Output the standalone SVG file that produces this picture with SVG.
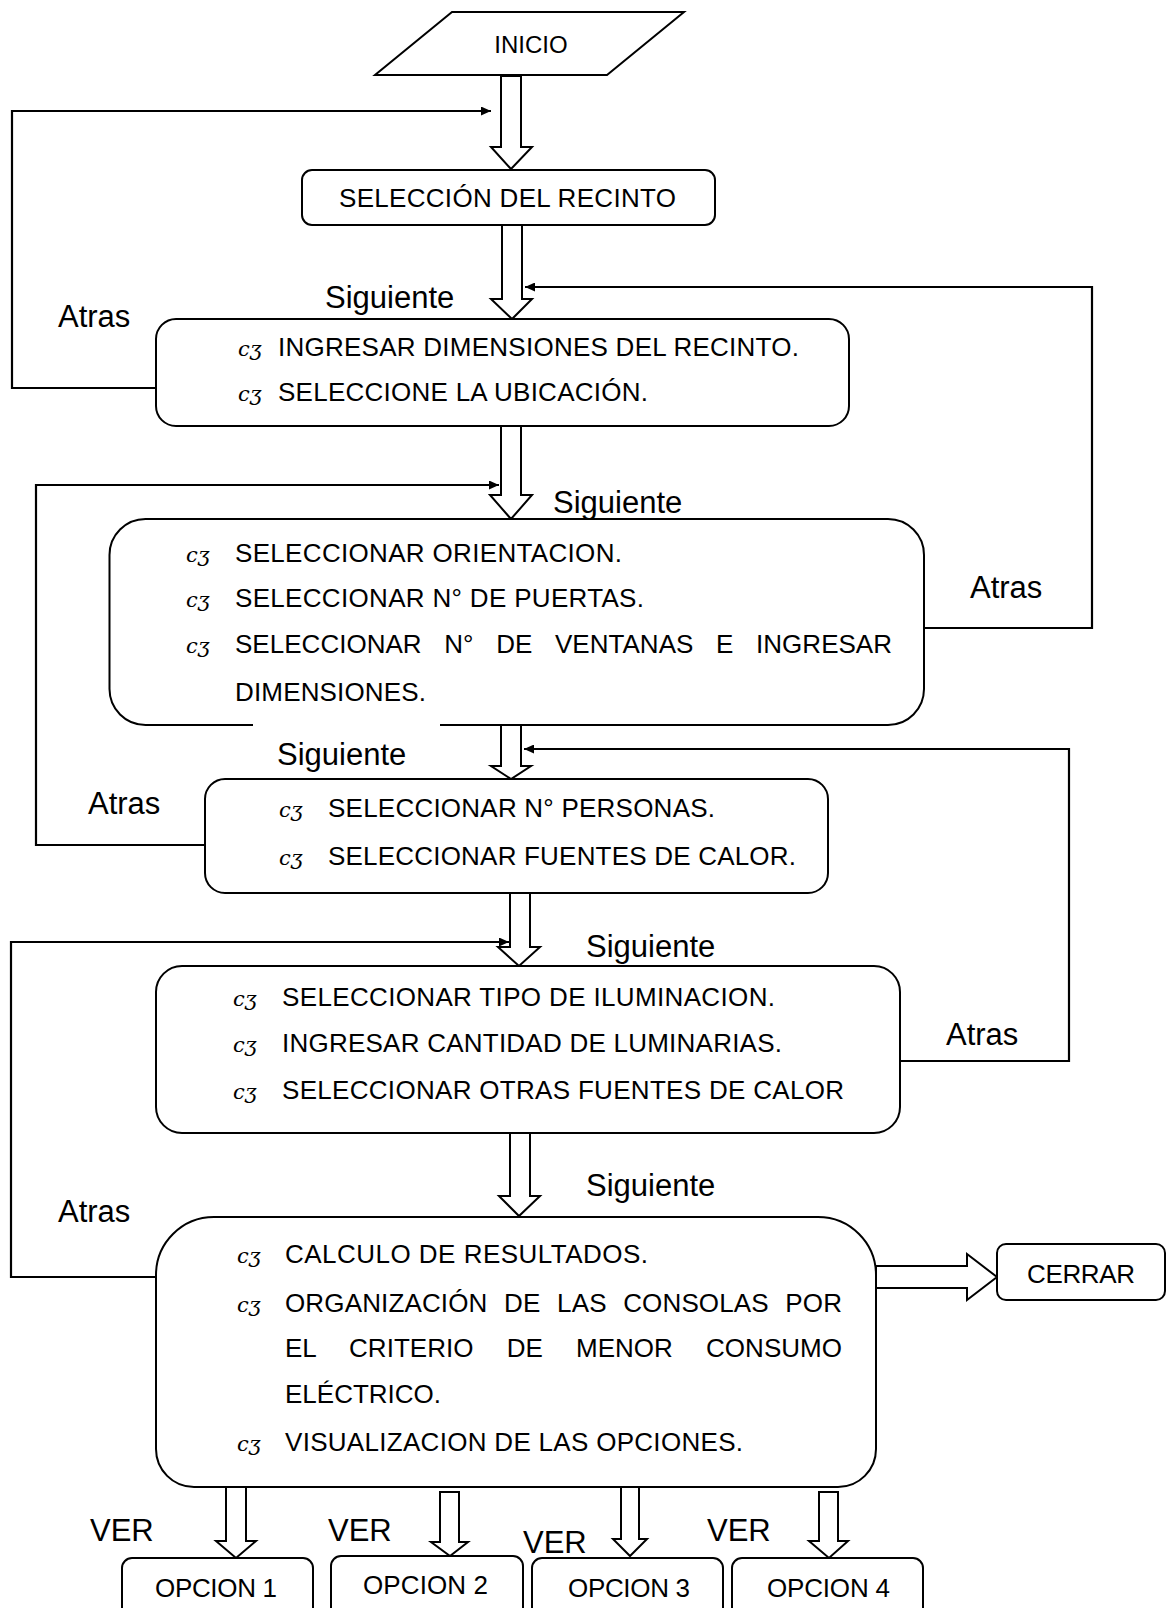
<svg xmlns="http://www.w3.org/2000/svg" width="1168" height="1608" viewBox="0 0 1168 1608">
<defs>
<style>
.box{fill:#fff;stroke:#000;stroke-width:2}
.ha{fill:#fff;stroke:#000;stroke-width:2;stroke-linejoin:miter}
.fb{fill:none;stroke:#000;stroke-width:2.2;marker-end:url(#ah)}
.t{font-family:"Liberation Sans",Arial,sans-serif;font-size:26px;fill:#000}
.lbl{font-family:"Liberation Sans",Arial,sans-serif;font-size:31px;fill:#000}
.b{font-family:"DejaVu Serif",serif;font-style:italic;font-size:21px;fill:#000}
</style>
<marker id="ah" markerUnits="userSpaceOnUse" markerWidth="11" markerHeight="9" refX="10" refY="4.5" orient="auto">
<path d="M0,0 L10,4.5 L0,9 Z" fill="#000"/>
</marker>
</defs>
<rect width="1168" height="1608" fill="#fff"/>

<g id="connectors">
<polygon class="ha" points="501,76 521,76 521,147 532,147 511,169 491,147 501,147"/>
<polygon class="ha" points="502,225 522,225 522,299 532,299 512,319 491,299 502,299"/>
<polygon class="ha" points="501,426 521,426 521,495 532,495 511,519 490,495 501,495"/>
<polygon class="ha" points="501,725 521,725 521,766 531,766 511,779 491,766 501,766"/>
<polygon class="ha" points="510,893 530,893 530,947 540,947 519,966 498,947 510,947"/>
<polygon class="ha" points="510,1133 530,1133 530,1196 540,1196 519,1216 499,1196 510,1196"/>
<polygon class="ha" points="876,1266 967,1266 967,1254 997,1277 967,1300 967,1288 876,1288"/>
<polygon class="ha" points="226,1487 246,1487 246,1541 256,1541 236,1558 216,1541 226,1541"/>
<polygon class="ha" points="440,1492 459,1492 459,1542 468,1542 450,1556 431,1542 440,1542"/>
<polygon class="ha" points="621,1487 639,1487 639,1539 647,1539 630,1556 613,1539 621,1539"/>
<polygon class="ha" points="819,1492 838,1492 838,1541 848,1541 829,1558 809,1541 819,1541"/>
<path class="fb" d="M156,388 H12 V111 H491"/>
<path class="fb" d="M924,628 H1092 V287 H525"/>
<path class="fb" d="M205,845 H36 V485 H499"/>
<path class="fb" d="M900,1061 H1069 V749 H524"/>
<path class="fb" d="M156,1277 H11 V942 H509"/>
</g>

<g id="labels">
<text class="lbl" x="325" y="308">Siguiente</text>
<text class="lbl" x="553" y="513">Siguiente</text>
<text class="lbl" x="277" y="765">Siguiente</text>
<text class="lbl" x="586" y="957">Siguiente</text>
<text class="lbl" x="586" y="1196">Siguiente</text>
<text class="lbl" x="58" y="327">Atras</text>
<text class="lbl" x="970" y="598">Atras</text>
<text class="lbl" x="88" y="814">Atras</text>
<text class="lbl" x="946" y="1045">Atras</text>
<text class="lbl" x="58" y="1222">Atras</text>
<text class="lbl" x="90" y="1541">VER</text>
<text class="lbl" x="328" y="1541">VER</text>
<text class="lbl" x="523" y="1553">VER</text>
<text class="lbl" x="707" y="1541">VER</text>
</g>

<g id="inicio">
<polygon class="box" points="452,12 684,12 607,75 375,75"/>
<text class="t" x="531" y="53" text-anchor="middle" style="font-size:24px">INICIO</text>
</g>

<g id="seleccion">
<rect class="box" x="302" y="170" width="413" height="55" rx="10"/>
<text class="t" x="339" y="207" textLength="337" lengthAdjust="spacing">SELECCIÓN DEL RECINTO</text>
</g>

<g id="dimensiones">
<rect class="box" x="156" y="319" width="693" height="107" rx="20"/>
<text class="b" x="238" y="356">cʒ</text>
<text class="t" x="278" y="356" textLength="521" lengthAdjust="spacing">INGRESAR DIMENSIONES DEL RECINTO.</text>
<text class="b" x="238" y="401">cʒ</text>
<text class="t" x="278" y="401" textLength="370" lengthAdjust="spacing">SELECCIONE LA UBICACIÓN.</text>
</g>

<g id="orientacion">
<path class="box" d="M440,725 H888 A36,36 0 0 0 924,689 V555 A36,36 0 0 0 888,519 H145.5 A36,36 0 0 0 109.5,555 V689 A36,36 0 0 0 145.5,725 H253"/>
<text class="b" x="186" y="562">cʒ</text>
<text class="t" x="235" y="562" textLength="387" lengthAdjust="spacing">SELECCIONAR ORIENTACION.</text>
<text class="b" x="186" y="607">cʒ</text>
<text class="t" x="235" y="607" textLength="409" lengthAdjust="spacing">SELECCIONAR N° DE PUERTAS.</text>
<text class="b" x="186" y="653">cʒ</text>
<text class="t" x="235" y="653" word-spacing="15.4" textLength="657" lengthAdjust="spacing">SELECCIONAR N° DE VENTANAS E INGRESAR</text>
<text class="t" x="235" y="701" textLength="191" lengthAdjust="spacing">DIMENSIONES.</text>
</g>

<g id="personas">
<rect class="box" x="205" y="779" width="623" height="114" rx="20"/>
<text class="b" x="279" y="817">cʒ</text>
<text class="t" x="328" y="817" textLength="387" lengthAdjust="spacing">SELECCIONAR N° PERSONAS.</text>
<text class="b" x="279" y="865">cʒ</text>
<text class="t" x="328" y="865" textLength="468" lengthAdjust="spacing">SELECCIONAR FUENTES DE CALOR.</text>
</g>

<g id="iluminacion">
<rect class="box" x="156" y="966" width="744" height="167" rx="26"/>
<text class="b" x="233" y="1006">cʒ</text>
<text class="t" x="282" y="1006" textLength="493" lengthAdjust="spacing">SELECCIONAR TIPO DE ILUMINACION.</text>
<text class="b" x="233" y="1052">cʒ</text>
<text class="t" x="282" y="1052" textLength="500" lengthAdjust="spacing">INGRESAR CANTIDAD DE LUMINARIAS.</text>
<text class="b" x="233" y="1099">cʒ</text>
<text class="t" x="282" y="1099" textLength="562" lengthAdjust="spacing">SELECCIONAR OTRAS FUENTES DE CALOR</text>
</g>

<g id="calculo">
<path class="box" d="M214,1217 H818 A58,58 0 0 1 876,1275 V1449 A38,38 0 0 1 838,1487 H194 A38,38 0 0 1 156,1449 V1275 A58,58 0 0 1 214,1217 Z"/>
<text class="b" x="237" y="1263">cʒ</text>
<text class="t" x="285" y="1263" textLength="363" lengthAdjust="spacing">CALCULO DE RESULTADOS.</text>
<text class="b" x="237" y="1312">cʒ</text>
<text class="t" x="285" y="1312" word-spacing="9.2" textLength="557" lengthAdjust="spacing">ORGANIZACIÓN DE LAS CONSOLAS POR</text>
<text class="t" x="285" y="1357" word-spacing="25.9" textLength="557" lengthAdjust="spacing">EL CRITERIO DE MENOR CONSUMO</text>
<text class="t" x="285" y="1403" textLength="156" lengthAdjust="spacing">ELÉCTRICO.</text>
<text class="b" x="237" y="1451">cʒ</text>
<text class="t" x="285" y="1451" textLength="458" lengthAdjust="spacing">VISUALIZACION DE LAS OPCIONES.</text>
</g>

<g id="cerrar">
<rect class="box" x="997" y="1244" width="168" height="56" rx="9"/>
<text class="t" x="1027" y="1283" textLength="108" lengthAdjust="spacing">CERRAR</text>
</g>

<g id="opcion1">
<rect class="box" x="122" y="1558" width="191" height="70" rx="10"/>
<text class="t" x="155" y="1597" textLength="122" lengthAdjust="spacing">OPCION 1</text>
</g>
<g id="opcion2">
<rect class="box" x="331" y="1556" width="192" height="72" rx="10"/>
<text class="t" x="363" y="1594" textLength="125" lengthAdjust="spacing">OPCION 2</text>
</g>
<g id="opcion3">
<rect class="box" x="532" y="1558" width="191" height="70" rx="10"/>
<text class="t" x="568" y="1597" textLength="122" lengthAdjust="spacing">OPCION 3</text>
</g>
<g id="opcion4">
<rect class="box" x="732" y="1558" width="191" height="70" rx="10"/>
<text class="t" x="767" y="1597" textLength="123" lengthAdjust="spacing">OPCION 4</text>
</g>
</svg>
